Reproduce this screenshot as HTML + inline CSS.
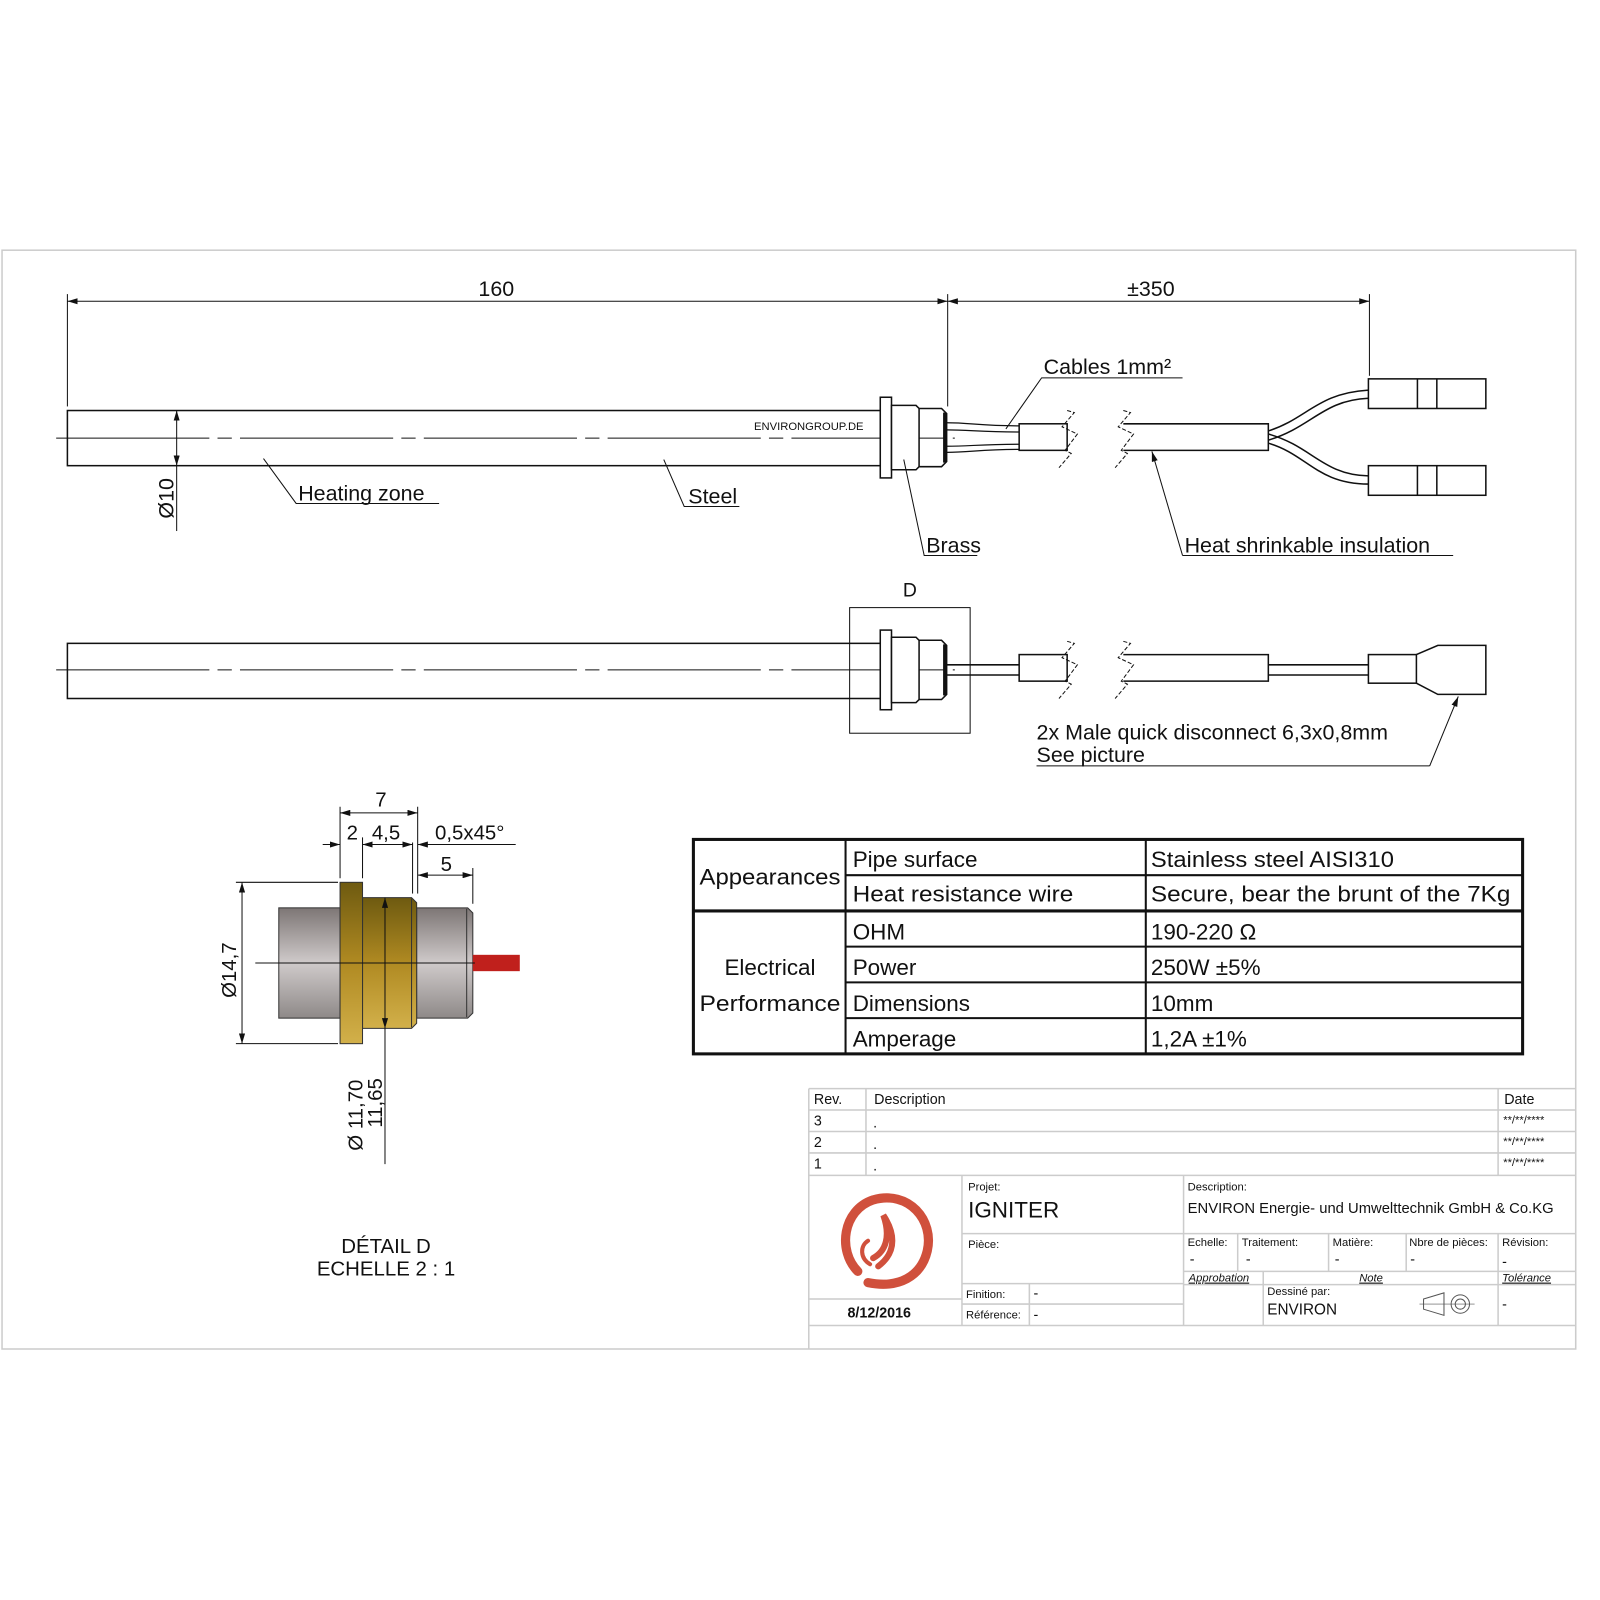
<!DOCTYPE html>
<html><head><meta charset="utf-8"><style>
html,body{margin:0;padding:0;background:#fff;}
svg{display:block;}
text{font-family:"Liberation Sans",sans-serif;fill:#111;}
</style></head><body>
<svg width="1600" height="1600" viewBox="0 0 1600 1600" xmlns="http://www.w3.org/2000/svg">
<defs>
<marker id="a" viewBox="0 0 10 6" refX="10" refY="3" markerWidth="10" markerHeight="6" orient="auto-start-reverse" markerUnits="userSpaceOnUse"><path d="M0,0L10,3L0,6z" fill="#111"/></marker>
<linearGradient id="gray" x1="0" y1="0" x2="0" y2="1"><stop offset="0" stop-color="#7d7675"/><stop offset="0.5" stop-color="#cfcaca"/><stop offset="1" stop-color="#8e8988"/></linearGradient>
<linearGradient id="brass" x1="0" y1="0" x2="0" y2="1"><stop offset="0" stop-color="#6e5a10"/><stop offset="0.5" stop-color="#b08a22"/><stop offset="1" stop-color="#d2b04a"/></linearGradient>
</defs>
<g transform="scale(1.0212)">
<rect x="2" y="245" width="1541" height="1076" fill="none" stroke="#ccc" stroke-width="1.5"/>

<g stroke="#111" fill="none" stroke-width="1.5">
<rect x="66" y="402" width="796" height="54"/>
<line x1="55" y1="429" x2="935" y2="429" stroke-dasharray="150,8,14,8" stroke-width="1"/>
<rect x="862" y="389" width="11" height="79" fill="#fff"/>
<path d="M873,397H897L900,400V457L897,460H873Z" fill="#fff"/>
<path d="M900,400H922L927,405V452L922,457H900"/>
<line x1="925" y1="404" x2="925" y2="453" stroke-width="3"/>
<path d="M927,414C950,414 960,417 998,417M927,421C950,421 960,423 998,423M927,437C950,437 960,435 998,435M927,443C950,443 960,440 998,440" stroke-width="1.2"/>
<rect x="998" y="415" width="47" height="26" fill="#fff"/>
<path d="M1045,402L1052,404L1040,418L1055,425L1043,441L1049,444L1037,458" stroke-width="1" stroke-dasharray="4,2"/>
<path d="M1100,402L1107,404L1095,418L1110,425L1098,441L1104,444L1092,458" stroke-width="1" stroke-dasharray="4,2"/>
<path d="M1100,415H1242V441H1100"/>
<path d="M1242,422C1280,410 1290,385 1340,382M1242,431C1285,418 1295,392 1340,390"/>
<path d="M1242,425C1285,437 1295,465 1340,466M1242,434C1280,445 1290,474 1340,474"/>
<rect x="1340" y="371" width="115" height="29"/><line x1="1388" y1="371" x2="1388" y2="400"/><line x1="1407" y1="371" x2="1407" y2="400"/>
<rect x="1340" y="456" width="115" height="29"/><line x1="1388" y1="456" x2="1388" y2="485"/><line x1="1407" y1="456" x2="1407" y2="485"/>
<line x1="66" y1="288" x2="66" y2="398" stroke-width="1"/>
<line x1="928" y1="288" x2="928" y2="398" stroke-width="1"/>
<line x1="1341" y1="288" x2="1341" y2="368" stroke-width="1"/>
<line x1="66" y1="295" x2="928" y2="295" stroke-width="1" marker-start="url(#a)" marker-end="url(#a)"/>
<line x1="928" y1="295" x2="1341" y2="295" stroke-width="1" marker-start="url(#a)" marker-end="url(#a)"/>
<line x1="173" y1="402" x2="173" y2="456" stroke-width="1" marker-start="url(#a)" marker-end="url(#a)"/>
<line x1="173" y1="456" x2="173" y2="520" stroke-width="1"/>
<path d="M258,449L290,493H430" stroke-width="1"/>
<path d="M650,450L670,496H724" stroke-width="1"/>
<path d="M885,450L905,544H957" stroke-width="1"/>
<path d="M985,420L1020,370H1158" stroke-width="1"/>
<path d="M1158,544L1128,442" stroke-width="1" marker-end="url(#a)"/>
<line x1="1158" y1="544" x2="1423" y2="544" stroke-width="1"/>

<rect x="66" y="630" width="796" height="54"/>
<line x1="55" y1="656" x2="935" y2="656" stroke-dasharray="150,8,14,8" stroke-width="1"/>
<rect x="832" y="595" width="118" height="123" stroke-width="1"/>
<rect x="862" y="617" width="11" height="78" fill="#fff"/>
<path d="M873,624H897L900,627V685L897,688H873Z" fill="#fff"/>
<path d="M900,627H922L927,632V680L922,685H900"/>
<line x1="925" y1="631" x2="925" y2="681" stroke-width="3"/>
<line x1="927" y1="651" x2="998" y2="651"/><line x1="927" y1="661" x2="998" y2="661"/>
<rect x="998" y="641" width="47" height="26" fill="#fff"/>
<path d="M1045,628L1052,630L1040,644L1055,651L1043,667L1049,670L1037,684" stroke-width="1" stroke-dasharray="4,2"/>
<path d="M1100,628L1107,630L1095,644L1110,651L1098,667L1104,670L1092,684" stroke-width="1" stroke-dasharray="4,2"/>
<path d="M1100,641H1242V667H1100"/>
<line x1="1242" y1="651" x2="1340" y2="651"/><line x1="1242" y1="661" x2="1340" y2="661"/>
<rect x="1340" y="641" width="47" height="28"/>
<path d="M1387,641L1408,632H1455V680H1408L1387,669"/>
<path d="M1400,750L1428,682" stroke-width="1" marker-end="url(#a)"/>
<line x1="1015" y1="750" x2="1400" y2="750" stroke-width="1"/>
</g>

<g font-size="21">
<text x="486" y="290" text-anchor="middle">160</text>
<text x="1127" y="290" text-anchor="middle">±350</text>
<text x="1022" y="366">Cables 1mm²</text>
<text x="292" y="490">Heating zone</text>
<text x="674" y="493">Steel</text>
<text x="907" y="541">Brass</text>
<text x="1160" y="541">Heat shrinkable insulation</text>
<text x="891" y="584" text-anchor="middle" font-size="19">D</text>
<text x="1015" y="724">2x Male quick disconnect 6,3x0,8mm</text>
<text x="1015" y="746">See picture</text>
<text transform="translate(170,488) rotate(-90)" text-anchor="middle">Ø10</text>
</g>
<text x="792" y="421" font-size="11" text-anchor="middle">ENVIRONGROUP.DE</text>

<g>
<rect x="273" y="889" width="60" height="108" fill="url(#gray)" stroke="#333"/>
<path d="M408,889H458L463,894V992L458,997H408Z" fill="url(#gray)" stroke="#333"/>
<rect x="463" y="935" width="46" height="16" fill="#c0201c"/>
<path d="M355,879H403L408,884V1002L403,1007H355Z" fill="url(#brass)" stroke="#333"/>
<rect x="333" y="864" width="22" height="158" fill="url(#brass)" stroke="#333"/>
<line x1="403" y1="880" x2="403" y2="1006" stroke="#333"/>
<line x1="457" y1="890" x2="457" y2="996" stroke="#333"/>
<g stroke="#111" stroke-width="1" fill="none">
<line x1="250" y1="943" x2="465" y2="943"/>
<line x1="231" y1="864" x2="331" y2="864"/><line x1="231" y1="1022" x2="331" y2="1022"/>
<line x1="237" y1="864" x2="237" y2="1022" marker-start="url(#a)" marker-end="url(#a)"/>
<line x1="333" y1="790" x2="333" y2="860"/><line x1="355" y1="820" x2="355" y2="860"/>
<line x1="409" y1="790" x2="409" y2="875"/><line x1="404" y1="825" x2="404" y2="875"/>
<line x1="463" y1="850" x2="463" y2="885"/>
<line x1="333" y1="796" x2="409" y2="796" marker-start="url(#a)" marker-end="url(#a)"/>
<line x1="316" y1="827" x2="333" y2="827" marker-end="url(#a)"/>
<line x1="355" y1="827" x2="404" y2="827" marker-start="url(#a)" marker-end="url(#a)"/>
<line x1="409" y1="827" x2="505" y2="827" marker-start="url(#a)"/>
<line x1="409" y1="857" x2="463" y2="857" marker-start="url(#a)" marker-end="url(#a)"/>
<line x1="377" y1="879" x2="377" y2="1007" marker-start="url(#a)" marker-end="url(#a)"/>
<line x1="377" y1="1007" x2="377" y2="1140"/>
</g>
<g font-size="20">
<text x="373" y="790" text-anchor="middle">7</text>
<text x="345" y="822" text-anchor="middle">2</text>
<text x="378" y="822" text-anchor="middle">4,5</text>
<text x="426" y="822">0,5x45°</text>
<text x="437" y="853" text-anchor="middle">5</text>
<text transform="translate(231,950) rotate(-90)" text-anchor="middle">Ø14,7</text>
<text transform="translate(355,1092) rotate(-90)" text-anchor="middle">Ø 11,70</text>
<text transform="translate(374,1080) rotate(-90)" text-anchor="middle">11,65</text>
<text x="378" y="1227" text-anchor="middle">DÉTAIL D</text>
<text x="378" y="1249" text-anchor="middle">ECHELLE 2 : 1</text>
</g>
</g>

<g stroke="#111" fill="none">
<rect x="679" y="822" width="812" height="210" stroke-width="3"/>
<line x1="828" y1="822" x2="828" y2="1032" stroke-width="2"/>
<line x1="1122" y1="822" x2="1122" y2="1032" stroke-width="2"/>
<line x1="828" y1="857" x2="1491" y2="857" stroke-width="2"/>
<line x1="679" y1="892" x2="1491" y2="892" stroke-width="3"/>
<line x1="828" y1="927" x2="1491" y2="927" stroke-width="2"/>
<line x1="828" y1="962" x2="1491" y2="962" stroke-width="2"/>
<line x1="828" y1="997" x2="1491" y2="997" stroke-width="2"/>
</g>
<g font-size="22">
<text x="754" y="866" text-anchor="middle" textLength="138" lengthAdjust="spacingAndGlyphs">Appearances</text>
<text x="754" y="955" text-anchor="middle">Electrical</text>
<text x="754" y="990" text-anchor="middle" textLength="138" lengthAdjust="spacingAndGlyphs">Performance</text>
<text x="835" y="849">Pipe surface</text>
<text x="835" y="883" textLength="216" lengthAdjust="spacingAndGlyphs">Heat resistance wire</text>
<text x="835" y="920">OHM</text>
<text x="835" y="955">Power</text>
<text x="835" y="990">Dimensions</text>
<text x="835" y="1025">Amperage</text>
<text x="1127" y="849" textLength="238" lengthAdjust="spacingAndGlyphs">Stainless steel AISI310</text>
<text x="1127" y="883" textLength="352" lengthAdjust="spacingAndGlyphs">Secure, bear the brunt of the 7Kg</text>
<text x="1127" y="920">190-220 Ω</text>
<text x="1127" y="955">250W ±5%</text>
<text x="1127" y="990">10mm</text>
<text x="1127" y="1025">1,2A ±1%</text>
</g>

<g stroke="#ccc" stroke-width="1.5" fill="none">
<line x1="792" y1="1066" x2="1543" y2="1066"/>
<line x1="792" y1="1087" x2="1543" y2="1087"/>
<line x1="792" y1="1108" x2="1543" y2="1108"/>
<line x1="792" y1="1129" x2="1543" y2="1129"/>
<line x1="792" y1="1151" x2="1543" y2="1151"/>
<line x1="792" y1="1298" x2="1543" y2="1298"/>
<line x1="792" y1="1066" x2="792" y2="1321"/>
<line x1="848" y1="1066" x2="848" y2="1151"/>
<line x1="1467" y1="1066" x2="1467" y2="1151"/>
<line x1="942" y1="1151" x2="942" y2="1298"/>
<line x1="792" y1="1272" x2="942" y2="1272"/>
<line x1="1159" y1="1151" x2="1159" y2="1298"/>
<line x1="942" y1="1208" x2="1543" y2="1208"/>
<line x1="942" y1="1257" x2="1159" y2="1257"/>
<line x1="942" y1="1277" x2="1159" y2="1277"/>
<line x1="1008" y1="1257" x2="1008" y2="1298"/>
<line x1="1159" y1="1245" x2="1543" y2="1245"/>
<line x1="1159" y1="1258" x2="1543" y2="1258"/>
<line x1="1212" y1="1208" x2="1212" y2="1245"/>
<line x1="1301" y1="1208" x2="1301" y2="1245"/>
<line x1="1377" y1="1208" x2="1377" y2="1245"/>
<line x1="1467" y1="1208" x2="1467" y2="1298"/>
<line x1="1237" y1="1245" x2="1237" y2="1298"/>
</g>
<g font-size="14">
<text x="797" y="1081">Rev.</text><text x="856" y="1081">Description</text><text x="1473" y="1081">Date</text>
<text x="797" y="1102">3</text><text x="855" y="1104">.</text><text x="1472" y="1100" font-size="11">**/**/****</text>
<text x="797" y="1123">2</text><text x="855" y="1125">.</text><text x="1472" y="1121" font-size="11">**/**/****</text>
<text x="797" y="1144">1</text><text x="855" y="1146">.</text><text x="1472" y="1142" font-size="11">**/**/****</text>
<text x="948" y="1166" font-size="11">Projet:</text>
<text x="948" y="1192" font-size="22">IGNITER</text>
<text x="1163" y="1166" font-size="11">Description:</text>
<text x="1163" y="1188" font-size="14.5">ENVIRON Energie- und Umwelttechnik GmbH &amp; Co.KG</text>
<text x="948" y="1222" font-size="11">Pièce:</text>
<text x="1163" y="1220" font-size="11">Echelle:</text><text x="1216" y="1220" font-size="11">Traitement:</text><text x="1305" y="1220" font-size="11">Matière:</text><text x="1380" y="1220" font-size="11">Nbre de pièces:</text><text x="1471" y="1220" font-size="11">Révision:</text>
<text x="1165" y="1238">-</text><text x="1220" y="1238">-</text><text x="1307" y="1238">-</text><text x="1381" y="1238">-</text><text x="1471" y="1240">-</text>
<text x="1164" y="1255" font-size="11" font-style="italic" text-decoration="underline">Approbation</text>
<text x="1331" y="1255" font-size="11" font-style="italic" text-decoration="underline">Note</text>
<text x="1471" y="1255" font-size="11" font-style="italic" text-decoration="underline">Tolérance</text>
<text x="946" y="1271" font-size="11">Finition:</text><text x="1012" y="1271">-</text>
<text x="946" y="1291" font-size="11">Référence:</text><text x="1012" y="1292">-</text>
<text x="1241" y="1268" font-size="11">Dessiné par:</text>
<text x="1241" y="1287" font-size="15">ENVIRON</text>
<text x="1471" y="1282">-</text>
<text x="861" y="1290" text-anchor="middle" font-weight="bold" font-size="14">8/12/2016</text>
</g>
<g stroke="#555" fill="none" stroke-width="1">
<path d="M1394,1272L1414,1266V1288L1394,1282Z"/>
<circle cx="1430" cy="1277" r="9"/><circle cx="1430" cy="1277" r="5"/>
<line x1="1390" y1="1277" x2="1444" y2="1277" stroke-width="0.6"/>
</g>
<g fill="none" stroke="#d0503c" stroke-linecap="round">
<path d="M840,1245C820,1225 825,1185 855,1175C890,1165 915,1195 908,1225C902,1250 880,1262 850,1256" stroke-width="9"/>
<path d="M860,1240C880,1225 875,1205 865,1190C872,1210 868,1225 855,1232" stroke-width="6"/>
<path d="M852,1238C842,1232 842,1220 850,1215" stroke-width="4"/>
</g>
</g>
</svg>
</body></html>
